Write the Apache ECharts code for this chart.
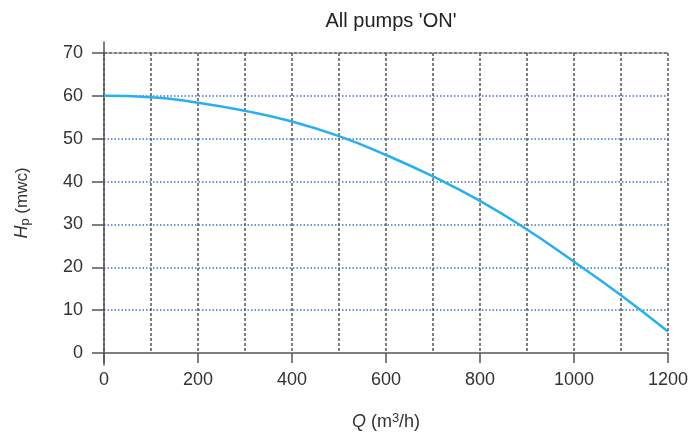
<!DOCTYPE html>
<html>
<head>
<meta charset="utf-8">
<script src="https://cdn.jsdelivr.net/npm/echarts@6/dist/echarts.min.js"></script>
<style>html,body{margin:0;padding:0;background:#fff}#c{width:692px;height:436px}</style>
</head>
<body>
<div id="c"></div>
<script>
const flowQ = [0, 100, 200, 300, 400, 500, 600, 700, 800, 900, 1000, 1100, 1200];
const headHp = [60, 59.7, 58.4, 56.5, 54, 50.6, 46.2, 41.2, 35.5, 28.8, 21.3, 13.5, 5];
const titleText = "All pumps 'ON'";

const FONT = '"Liberation Sans", Arial, sans-serif';
const chart = echarts.init(document.getElementById('c'));
chart.setOption({
  animation: false,
  title: {text: titleText, left: 386, textAlign: 'center', top: 6,
    textStyle: {fontFamily: FONT, fontSize: 20, fontWeight: 'normal', color: '#222'}},
  grid: [{left: 104, right: 24, top: 53, bottom: 83}, {left: 104, right: 24, top: 42, bottom: 71}],
  xAxis: [{
    type: 'value', gridIndex: 0, min: 0, max: 1200, interval: 200,
    axisLine: {show: true, lineStyle: {color: '#555', width: 1.5}},
    axisTick: {show: true, length: 10, lineStyle: {color: '#555', width: 1.5}},
    minorTick: {show: false, splitNumber: 2},
    axisLabel: {fontFamily: FONT, fontSize: 18, color: '#333', margin: 18, formatter: v => String(v)},
    splitLine: {show: true, lineStyle: {color: '#555', type: [3, 2], width: 1.5}},
    minorSplitLine: {show: true, lineStyle: {color: '#555', type: [3, 2], width: 1.5}},
    name: '{i|Q} (m{sup|3}/h)', nameLocation: 'middle', nameGap: 59,
    nameTextStyle: {fontFamily: FONT, fontSize: 18, color: '#333',
      rich: {i: {fontStyle: 'italic', fontFamily: FONT, fontSize: 18, color: '#333'},
             sup: {fontFamily: FONT, fontSize: 13, color: '#333', verticalAlign: 'top', padding: [0, 0, 7, 0]}}}
  }, {
    type: 'value', gridIndex: 0, position: 'top', min: 0, max: 1200, interval: 200,
    axisLine: {show: true, lineStyle: {color: '#555', type: [3, 2], width: 1.5}},
    axisTick: {show: false}, axisLabel: {show: false}, splitLine: {show: false}
  }, {
    type: 'value', gridIndex: 1, min: 0, max: 1200, show: false
  }],
  yAxis: [{
    type: 'value', gridIndex: 0, min: 0, max: 70, interval: 10,
    axisLine: {show: false},
    axisTick: {show: true, length: 12, lineStyle: {color: '#555', width: 1.5}},
    axisLabel: {fontFamily: FONT, fontSize: 18, color: '#333', margin: 21},
    splitLine: {show: true, lineStyle: {
      color: ['transparent', '#3f74c4', '#3f74c4', '#3f74c4', '#3f74c4', '#3f74c4', '#3f74c4', 'transparent'],
      type: [1.5, 2], width: 1.5}},
    name: '{i|H}{sub|p} (mwc)', nameLocation: 'middle', nameGap: 72, nameRotate: 90,
    nameTextStyle: {fontFamily: FONT, fontSize: 17, color: '#333',
      rich: {i: {fontStyle: 'italic', fontFamily: FONT, fontSize: 18, color: '#333'},
             sub: {fontFamily: FONT, fontSize: 13, color: '#333', verticalAlign: 'bottom', padding: [7, 0, 0, 0]}}}
  }, {
    type: 'value', gridIndex: 1, min: 0, max: 1,
    axisLine: {show: true, onZero: false, lineStyle: {color: '#555', width: 1.5}},
    axisTick: {show: false}, axisLabel: {show: false}, splitLine: {show: false}
  }],
  series: [{
    type: 'line', xAxisIndex: 0, yAxisIndex: 0,
    data: flowQ.map((q, i) => [q, headHp[i]]),
    smooth: true, showSymbol: false,
    lineStyle: {color: '#27aff0', width: 2.5}, z: 5
  }]
});
</script>
</body>
</html>
